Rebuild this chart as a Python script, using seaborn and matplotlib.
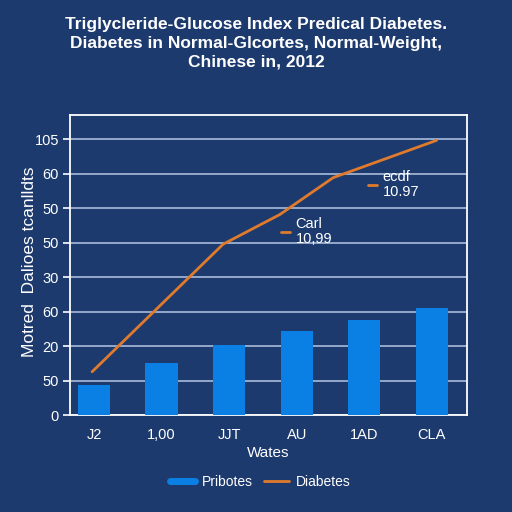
import seaborn as sns
import matplotlib.pyplot as plt
import pandas as pd
from matplotlib.lines import Line2D

# data (y in gridline units, 0..8)
categories = ["J2", "1,00", "JJT", "AU", "1AD", "CLA"]
bar_values = [0.87, 1.52, 2.03, 2.43, 2.75, 3.11]
line_x = [-0.03, 1.91, 2.75, 3.54, 5.07]
line_y = [1.26, 4.96, 5.82, 6.89, 7.97]
ytick_labels = ["0", "50", "20", "60", "30", "50", "50", "60", "105"]
notes = [("Carl\n10,99", 2.83, 5.31), ("ecdf\n10.97", 4.12, 6.67)]

bg = "#1c3a6e"
bar_color = "#0b80e4"
line_color = "#e07a2c"
grid_color = "#95a8cc"

sns.set_style("dark", {"axes.facecolor": bg, "figure.facecolor": bg})
plt.rcParams["font.family"] = ["Liberation Sans", "DejaVu Sans"]
plt.rcParams["text.color"] = "white"

fig = plt.figure(figsize=(5.12, 5.12), dpi=100)
ax = fig.add_axes([0.137, 0.189, 0.775, 0.586])

df = pd.DataFrame({"cat": categories, "val": bar_values})
sns.barplot(data=df, x="cat", y="val", color=bar_color, saturation=1,
            width=0.48, linewidth=0, edgecolor="none", ax=ax, zorder=3)
sns.lineplot(x=line_x, y=line_y, color=line_color, lw=2, ax=ax, zorder=4)

for txt, x, y in notes:
    ax.plot([x - 0.07, x + 0.07], [y, y], color=line_color, lw=2, zorder=4)
    ax.text(x + 0.15, y + 0.02, txt, color="white", fontsize=10.5,
            va="center", ha="left", linespacing=1.1, zorder=5)

ax.set_xlim(-0.355, 5.52)
ax.set_ylim(0, 8.7)
ax.set_yticks(range(len(ytick_labels)))
ax.set_yticklabels(ytick_labels)
ax.set_xticks(range(len(categories)))
ax.set_xticklabels(categories)
ax.set_xticks([0.5, 1.5, 2.5, 3.5, 4.5], minor=True)
ax.tick_params(axis="x", which="major", length=0, pad=9, colors="white",
               labelsize=10.5)
ax.tick_params(axis="x", which="minor", length=5, width=1.2, color="white",
               direction="out")
ax.tick_params(axis="y", length=5, width=1.2, colors="white", labelsize=10.5,
               pad=3, left=True)
ax.yaxis.grid(True, color=grid_color, lw=1.4, zorder=0)
ax.xaxis.grid(False)
ax.set_axisbelow(True)
for s in ax.spines.values():
    s.set_visible(True)
    s.set_color("white")
    s.set_linewidth(1.3)

ax.set_xlabel("Wates", color="white", fontsize=11, labelpad=3)
ax.set_ylabel("Motred  Dalioes tcanlldts", color="white", fontsize=12.5)
ax.yaxis.set_label_coords(-0.083, 0.51)

fig.text(0.5, 0.916,
         "Triglycleride-Glucose Index Predical Diabetes.\n"
         "Diabetes in Normal-Glcortes, Normal-Weight,\n"
         "Chinese in, 2012",
         ha="center", va="center", color="white", fontsize=12.5,
         fontweight="bold", linespacing=1.3)

handles = [Line2D([], [], color=bar_color, lw=5),
           Line2D([], [], color=line_color, lw=2)]
fig.legend(handles, ["Pribotes", "Diabetes"], loc="center",
           bbox_to_anchor=(0.508, 0.058), ncol=2, frameon=False,
           fontsize=10, handlelength=1.8, columnspacing=0.8,
           handletextpad=0.5, labelcolor="white")

fig.savefig("out.png", dpi=100, facecolor=bg)
